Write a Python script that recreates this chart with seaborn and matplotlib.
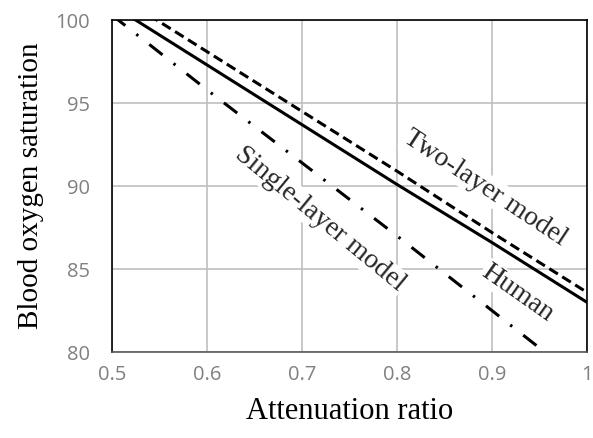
import matplotlib
matplotlib.use("Agg")
import matplotlib.pyplot as plt
import pandas as pd
import seaborn as sns

# ---- data ---------------------------------------------------------------
attenuation = [0.5, 0.6, 0.7, 0.8, 0.9, 1.0]
human = [100.9, 97.3, 93.7, 90.1, 86.6, 83.0]
two_layer = [101.7, 98.1, 94.5, 90.9, 87.2, 83.6]
single_layer = [100.3, 95.8, 91.4, 87.0, 82.5, 78.0]

x_ticks = [0.5, 0.6, 0.7, 0.8, 0.9, 1.0]
x_tick_labels = ["0.5", "0.6", "0.7", "0.8", "0.9", "1"]
y_ticks = [80, 85, 90, 95, 100]

df = pd.DataFrame({
    "ratio": attenuation * 3,
    "spo2": human + two_layer + single_layer,
    "model": ["Human"] * 6 + ["Two-layer model"] * 6 + ["Single-layer model"] * 6,
})

sns.set_theme(style="whitegrid")
serif = ["Liberation Serif", "DejaVu Serif"]
tick_font = "Open Sans"

fig = plt.figure(figsize=(5.93, 4.38), dpi=100)
ax = fig.add_axes([0.189, 0.196, 0.801, 0.758])

# dash patterns in units of line width
styles = {
    "Human": None,
    "Two-layer model": (3.3, 1.7),
    "Single-layer model": (5.5, 4.6, 0.8, 4.6),
}
for name, dash in styles.items():
    sub = df[df["model"] == name]
    line = sns.lineplot(data=sub, x="ratio", y="spo2", ax=ax, color="black",
                        linewidth=2.2, legend=False).lines[-1]
    if dash is not None:
        line.set_dashes(dash)
        line.set_dash_capstyle("butt")

ax.set_xlim(0.5, 1.0)
ax.set_ylim(80, 100)
ax.set_xticks(x_ticks)
ax.set_xticklabels(x_tick_labels)
ax.set_yticks(y_ticks)
ax.grid(True, color="#bfbfbf", linewidth=1.2)
ax.tick_params(axis="both", length=0, labelsize=14.5, labelcolor="#808080")
ax.tick_params(axis="y", pad=16)
ax.tick_params(axis="x", pad=9)
for lbl in ax.get_xticklabels() + ax.get_yticklabels():
    lbl.set_family(tick_font)
for sp in ax.spines.values():
    sp.set_color("black")
    sp.set_linewidth(1.2)
ax.spines["bottom"].set_color("#595959")

ax.set_xlabel("Attenuation ratio", family=serif, fontsize=22, labelpad=9, color="black")
ax.set_ylabel("Blood oxygen saturation", family=serif, fontsize=21, labelpad=8, color="black")

box = dict(facecolor="white", edgecolor="none", pad=1)
ax.text(0.893, 89.9, "Two-layer model", rotation=-33.5, rotation_mode="anchor",
        ha="center", va="center", family=serif, fontsize=20, bbox=box)
ax.text(0.927, 83.55, "Human", rotation=-35, rotation_mode="anchor",
        ha="center", va="center", family=serif, fontsize=20, bbox=box)
ax.text(0.719, 88.0, "Single-layer model", rotation=-39.5, rotation_mode="anchor",
        ha="center", va="center", family=serif, fontsize=20, bbox=box)

fig.savefig("out.png", dpi=100)
